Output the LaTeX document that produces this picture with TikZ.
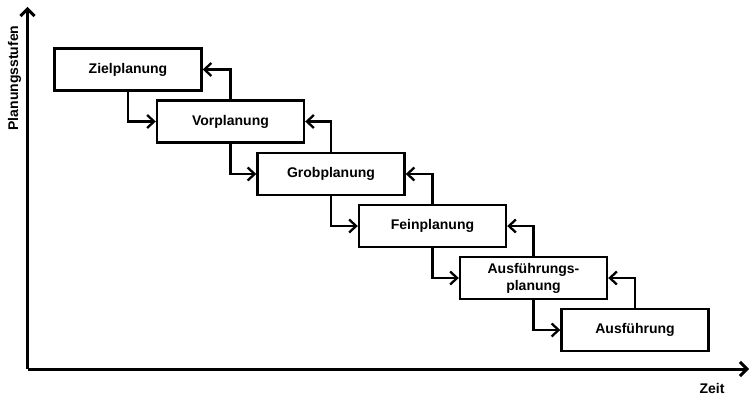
\documentclass[tikz,border=0pt]{standalone}
\usepackage{fontspec}
\setmainfont{Liberation Sans}
\usetikzlibrary{arrows.meta}
\begin{document}
\begin{tikzpicture}[x=1pt,y=-1pt,
  stage/.style={draw, line width=2.4pt, minimum width=147pt, minimum height=42pt,
    inner sep=0pt, align=center, font=\fontsize{14}{17}\selectfont\bfseries},
  flow/.style={line width=2.3pt, -{Straight Barb[length=7pt,width=13pt,line width=2.3pt]}},
  axis/.style={line width=3pt, -{Straight Barb[length=7pt,width=14pt,line width=3pt]}},
  axislabel/.style={font=\fontsize{14}{17}\selectfont\bfseries, inner sep=0pt}]
\useasboundingbox (0,0) rectangle (751,396);

% axes
\coordinate (origin) at (27.5,369);
\coordinate (ytop) at (27.5,7);
\coordinate (xend) at (749,369);
\draw[axis] (origin) -- (ytop);
\draw[axis] (origin) -- (xend);
\node[axislabel, rotate=90] (ylab) at (14.5,78) {Planungsstufen};
\node[axislabel] (xlab) at (712,388) {Zeit};

% planning stages
\node[stage] (s1) at (128,69.5) {Zielplanung};
\node[stage] (s2) at (230.5,121.5) {Vorplanung};
\node[stage] (s3) at (331,174) {Grobplanung};
\node[stage] (s4) at (432.5,226) {Feinplanung};
\node[stage] (s5) at (533.5,278) {Ausführungs-\\planung};
\node[stage] (s6) at (635,330) {Ausführung};

% forward and feedback links
\foreach \a/\b in {s1/s2,s2/s3,s3/s4,s4/s5,s5/s6}{
  \draw[flow] (\a.south) |- (\b.west);
  \draw[flow] (\b.north) |- (\a.east);
}
\end{tikzpicture}
\end{document}
